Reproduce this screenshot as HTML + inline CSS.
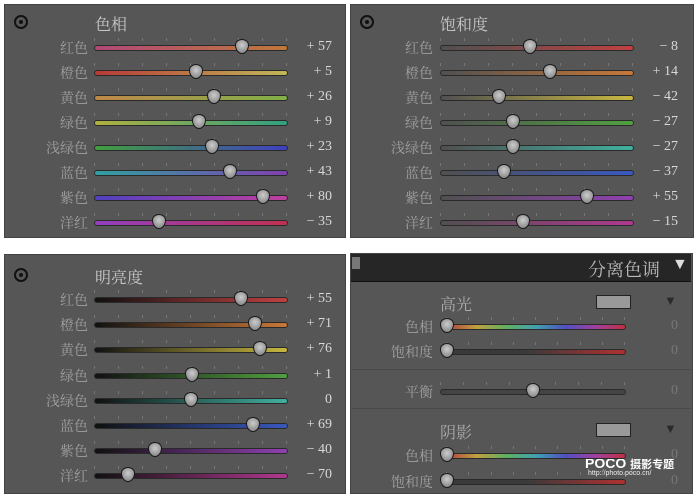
<!DOCTYPE html><html><head><meta charset="utf-8"><style>
body{margin:0;width:696px;height:497px;background:#fff;position:relative;overflow:hidden;font-family:"Liberation Serif","Noto Serif CJK SC",serif}
.p{position:absolute;background:#565656;border:1px solid #444}
.t{position:absolute;color:#c8c8c8;font-size:16px}
.l{position:absolute;color:#a0a0a0;font-size:14px;text-align:right;width:60px}
.v{position:absolute;color:#d8d8d8;font-size:14px;text-align:right;width:50px}
.tr{position:absolute;height:4px;border-radius:3px;border:1px solid #2a2a2a}
.k{position:absolute;width:12px;height:13px;background:radial-gradient(circle at 50% 40%,#ccc,#777);border:1px solid #1a1a1a;border-radius:50% 50% 50% 50%/40% 40% 60% 60%}
.tk{position:absolute;width:1px;height:3px;background:#777}
.ic{position:absolute;width:10px;height:10px;border:2px solid #111;border-radius:50%}
.ic:after{content:"";position:absolute;left:3px;top:3px;width:4px;height:4px;background:#111;border-radius:50%}
</style></head><body>
<div class="p" style="left:4px;top:4px;width:340px;height:232px"></div>
<div class="p" style="left:350px;top:4px;width:342px;height:232px"></div>
<div class="p" style="left:4px;top:254px;width:340px;height:238px"></div>
<div class="p" style="left:350px;top:253px;width:341px;height:239px"></div>
<div style="position:absolute;left:351px;top:254px;width:340px;height:27px;background:#262626;border-bottom:1px solid #111"></div>
<div style="position:absolute;left:352px;top:257px;width:8px;height:12px;background:#777"></div>
<div class="t" style="left:588px;top:256px;font-size:18px;color:#bbb">分离色调</div>
<div class="t" style="left:672px;top:256px;font-size:16px;color:#ddd">▼</div>
<div style="position:absolute;left:351px;top:369px;width:340px;height:1px;background:#4a4a4a"></div>
<div style="position:absolute;left:351px;top:408px;width:340px;height:1px;background:#4a4a4a"></div>
<div class="ic" style="left:14px;top:15px"></div>
<div class="ic" style="left:360px;top:15px"></div>
<div class="ic" style="left:14px;top:268px"></div>
<div class="t" style="left:95px;top:12px">色相</div>
<div class="t" style="left:440px;top:12px">饱和度</div>
<div class="t" style="left:95px;top:265px">明亮度</div>
<div class="t" style="left:440px;top:292px;color:#aaa">高光</div>
<div class="t" style="left:440px;top:420px;color:#aaa">阴影</div>
<div style="position:absolute;left:596px;top:295px;width:33px;height:12px;background:#999;border:1px solid #222"></div>
<div style="position:absolute;left:596px;top:423px;width:33px;height:12px;background:#999;border:1px solid #222"></div>
<div class="t" style="left:664px;top:293px;color:#2a2a2a;font-size:13px">▼</div>
<div class="t" style="left:664px;top:421px;color:#2a2a2a;font-size:13px">▼</div>
<div style="position:absolute;left:585px;top:455px;color:#fff;font-family:'Liberation Sans',sans-serif;font-weight:bold;font-size:14px">POCO <span style="font-size:11px;font-family:'Noto Sans CJK SC',sans-serif">摄影专题</span></div>
<div style="position:absolute;left:588px;top:470px;color:#eee;font-family:'Liberation Sans',sans-serif;font-size:7px">http://photo.poco.cn/</div>
<div id="c"></div>
<script>
var c=document.getElementById('c'),h='';
function s(lx,ly,tx,tw,lab,val,vtxt,grad,vx){
 h+='<div class="l" style="left:'+(lx-60)+'px;top:'+(ly-9)+'px">'+lab+'</div>';
 for(var i=0;i<=8;i++)h+='<div class="tk" style="left:'+(tx+i*tw/8)+'px;top:'+(ly-9)+'px"></div>';
 h+='<div class="tr" style="left:'+tx+'px;top:'+(ly-2)+'px;width:'+tw+'px;background:'+grad+'"></div>';
 var sp=tw*0.94,kx=tx+tw/2+sp/2*val/100;if(val===-100)kx=tx;
 h+='<div class="k" style="left:'+(kx-6)+'px;top:'+(ly-8)+'px"></div>';
 h+='<div class="v" style="left:'+(vx-50)+'px;top:'+(ly-8)+'px">'+vtxt+'</div>';
}
var L=['红色','橙色','黄色','绿色','浅绿色','蓝色','紫色','洋红'];
var C=['#c04040','#c87838','#c8b840','#50a040','#40b0a0','#3858c0','#9040b0','#b03890'];
var H=[['#b04878','#c07838'],['#b83838','#c0b858'],['#c08848','#80b048'],['#b0b040','#30a080'],['#40a040','#4040c0'],['#30a0a0','#8040b0'],['#5040c0','#c040a0'],['#9040c0','#c03050']];
var hv=[57,5,26,9,23,43,80,-35],sv=[-8,14,-42,-27,-27,-37,55,-15],lv=[55,71,76,1,0,69,-40,-70];
function f(v){return v>0?'+ '+v:(v<0?'− '+(-v):'0')}
for(var i=0;i<8;i++){
 s(88,47+i*25,94,192,L[i],hv[i],f(hv[i]),'linear-gradient(90deg,'+H[i][0]+','+H[i][1]+')',332);
 s(433,47+i*25,440,192,L[i],sv[i],f(sv[i]),'linear-gradient(90deg,#505050,'+C[i]+')',678);
 s(88,299+i*25.2,94,192,L[i],lv[i],f(lv[i]),'linear-gradient(90deg,#111,'+C[i]+')',332);
}
var hue='linear-gradient(90deg,#b04040,#c0a040,#60b060,#40a0b0,#5050c0,#a040a0,#c03040)';
var sat='linear-gradient(90deg,#3a3a3a 45%,#b03030)';
s(433,326,446,178,'色相',-100,'<span style="color:#777">0</span>',hue,678);
s(433,351,446,178,'饱和度',-100,'<span style="color:#777">0</span>',sat,678);
s(433,391,440,184,'平衡',0,'<span style="color:#777">0</span>','#444',678);
s(433,455,446,178,'色相',-100,'<span style="color:#777">0</span>',hue,678);
s(433,481,446,178,'饱和度',-100,'<span style="color:#777">0</span>',sat,678);
c.innerHTML=h;
</script></body></html>
